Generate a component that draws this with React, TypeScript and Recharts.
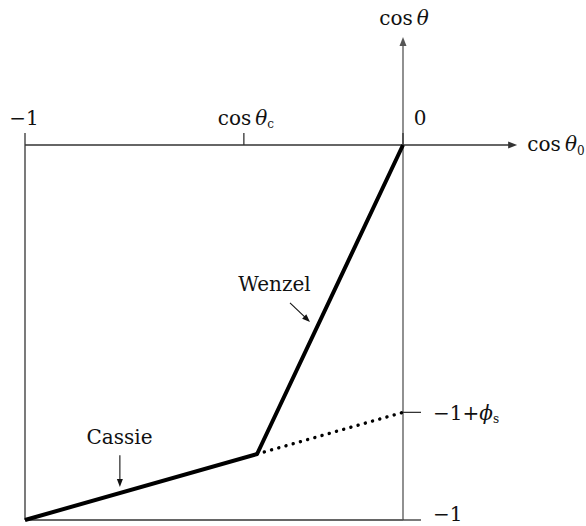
import React from 'react';
import { LineChart, Line, XAxis, YAxis, ReferenceLine, ReferenceDot } from 'recharts';

// schematic values
const cosThetaC = -0.421;
const phiS = 0.287;
const kinkX = -0.386;
const kinkY = -0.824;

const solidX = [-1, kinkX, 0];
const solidY = [-1, kinkY, 0];
const dottedX = [kinkX, 0];
const dottedY = [kinkY, -1 + phiS];

const xTicks = [-1, cosThetaC, 0];
const yTicks = [-1, -1 + phiS];

const solidData = solidX.map((x, i) => ({ x, y: solidY[i] }));
const dottedData = dottedX.map((x, i) => ({ x, y: dottedY[i] }));

const INK = '#111';
const AXIS = '#333';
const FS = 20;
const THIN = '\u2009';

function arrow(head: number, half: number, stroke: string, width: number) {
  return (p: any) => {
    const { x1, y1, x2, y2 } = p;
    const dx = x2 - x1, dy = y2 - y1;
    const len = Math.sqrt(dx * dx + dy * dy) || 1;
    const ux = dx / len, uy = dy / len;
    const bx = x2 - ux * head, by = y2 - uy * head;
    const pts = `${x2},${y2} ${bx - uy * half},${by + ux * half} ${bx + uy * half},${by - ux * half}`;
    return (
      <g>
        <line x1={x1} y1={y1} x2={bx + ux} y2={by + uy} stroke={stroke} strokeWidth={width} />
        <polygon points={pts} fill={stroke} />
      </g>
    );
  };
}

function plainLine(stroke: string, width: number) {
  return (p: any) => <line x1={p.x1} y1={p.y1} x2={p.x2} y2={p.y2} stroke={stroke} strokeWidth={width} />;
}

function XTick(props: any) {
  const { x, y, payload } = props;
  const v = payload.value;
  if (v === -1) return <text x={x - 1} y={y} textAnchor="middle" fontSize={FS} fill={INK}>−1</text>;
  if (v === 0) return <text x={x + 17} y={y} textAnchor="middle" fontSize={FS} fill={INK}>0</text>;
  return (
    <text x={x + 2} y={y} textAnchor="middle" fontSize={FS} fill={INK}>
      cos{THIN}<tspan fontStyle="italic">θ</tspan><tspan fontSize={12} dy={3}>c</tspan>
    </text>
  );
}

function YTick(props: any) {
  const { x, y, payload } = props;
  if (payload.value === -1) return <text x={x} y={y + 1} fontSize={FS} fill={INK}>−1</text>;
  return (
    <text x={x} y={y + 8} fontSize={FS} fill={INK}>
      −1+<tspan fontStyle="italic">ϕ</tspan><tspan fontSize={12} dy={3}>s</tspan>
    </text>
  );
}

function label(content: React.ReactNode, anchor: string) {
  return (p: any) => (
    <text x={p.cx} y={p.cy} textAnchor={anchor} fontSize={FS} fill={INK}>{content}</text>
  );
}

export default function App() {
  return (
    <div style={{ position: 'absolute', left: 0, top: 0, background: '#fff' }}>
      <LineChart width={586} height={526} margin={{ top: 115, right: 123, bottom: 6, left: 25 }}
        style={{ fontFamily: '"DejaVu Serif", serif' }}>
        <XAxis dataKey="x" type="number" orientation="top" domain={[-1, 0]} ticks={xTicks} interval={0}
          height={30} axisLine={false} tickSize={12} tickMargin={8}
          tickLine={{ stroke: AXIS, strokeWidth: 1.3 }} tick={<XTick />} />
        <YAxis type="number" orientation="right" domain={[-1, 0]} ticks={yTicks} interval={0}
          width={60} axisLine={false} tickSize={18} tickMargin={12}
          tickLine={{ stroke: AXIS, strokeWidth: 1.3 }} tick={<YTick />} />

        {/* frame and axes */}
        <ReferenceLine segment={[{ x: -1, y: -1 }, { x: -1, y: 0 }]} ifOverflow="visible" shape={plainLine(AXIS, 1.3)} />
        <ReferenceLine segment={[{ x: -1, y: -1 }, { x: 0, y: -1 }]} ifOverflow="visible" shape={plainLine(AXIS, 1.3)} />
        <ReferenceLine segment={[{ x: -1, y: 0 }, { x: 0.302, y: 0 }]} ifOverflow="visible" shape={arrow(9, 3.5, AXIS, 1.3)} />
        <ReferenceLine segment={[{ x: 0, y: -1 }, { x: 0, y: 0.288 }]} ifOverflow="visible" shape={arrow(9, 3.5, '#555', 1.3)} />

        {/* pointer arrows */}
        <ReferenceLine segment={[{ x: -0.299, y: -0.421 }, { x: -0.246, y: -0.472 }]} ifOverflow="visible" shape={arrow(8, 3, INK, 1.1)} />
        <ReferenceLine segment={[{ x: -0.749, y: -0.827 }, { x: -0.749, y: -0.912 }]} ifOverflow="visible" shape={arrow(8, 3, INK, 1.1)} />

        <Line data={dottedData} dataKey="y" type="linear" stroke="#000" strokeWidth={3.4}
          strokeDasharray="0.1 7.4" strokeLinecap="round" dot={false} isAnimationActive={false} />
        <Line data={solidData} dataKey="y" type="linear" stroke="#000" strokeWidth={4}
          strokeLinejoin="round" dot={false} isAnimationActive={false} />

        {/* text labels */}
        <ReferenceDot x={-0.34} y={-0.389} r={0} ifOverflow="visible" shape={label('Wenzel', 'middle')} />
        <ReferenceDot x={-0.75} y={-0.797} r={0} ifOverflow="visible" shape={label('Cassie', 'middle')} />
        <ReferenceDot x={0.003} y={0.32} r={0} ifOverflow="visible"
          shape={label(<>cos{THIN}<tspan fontStyle="italic">θ</tspan></>, 'middle')} />
        <ReferenceDot x={0.329} y={-0.016} r={0} ifOverflow="visible"
          shape={label(<>cos{THIN}<tspan fontStyle="italic">θ</tspan><tspan fontSize={12} dy={4}>0</tspan></>, 'start')} />
      </LineChart>
    </div>
  );
}
